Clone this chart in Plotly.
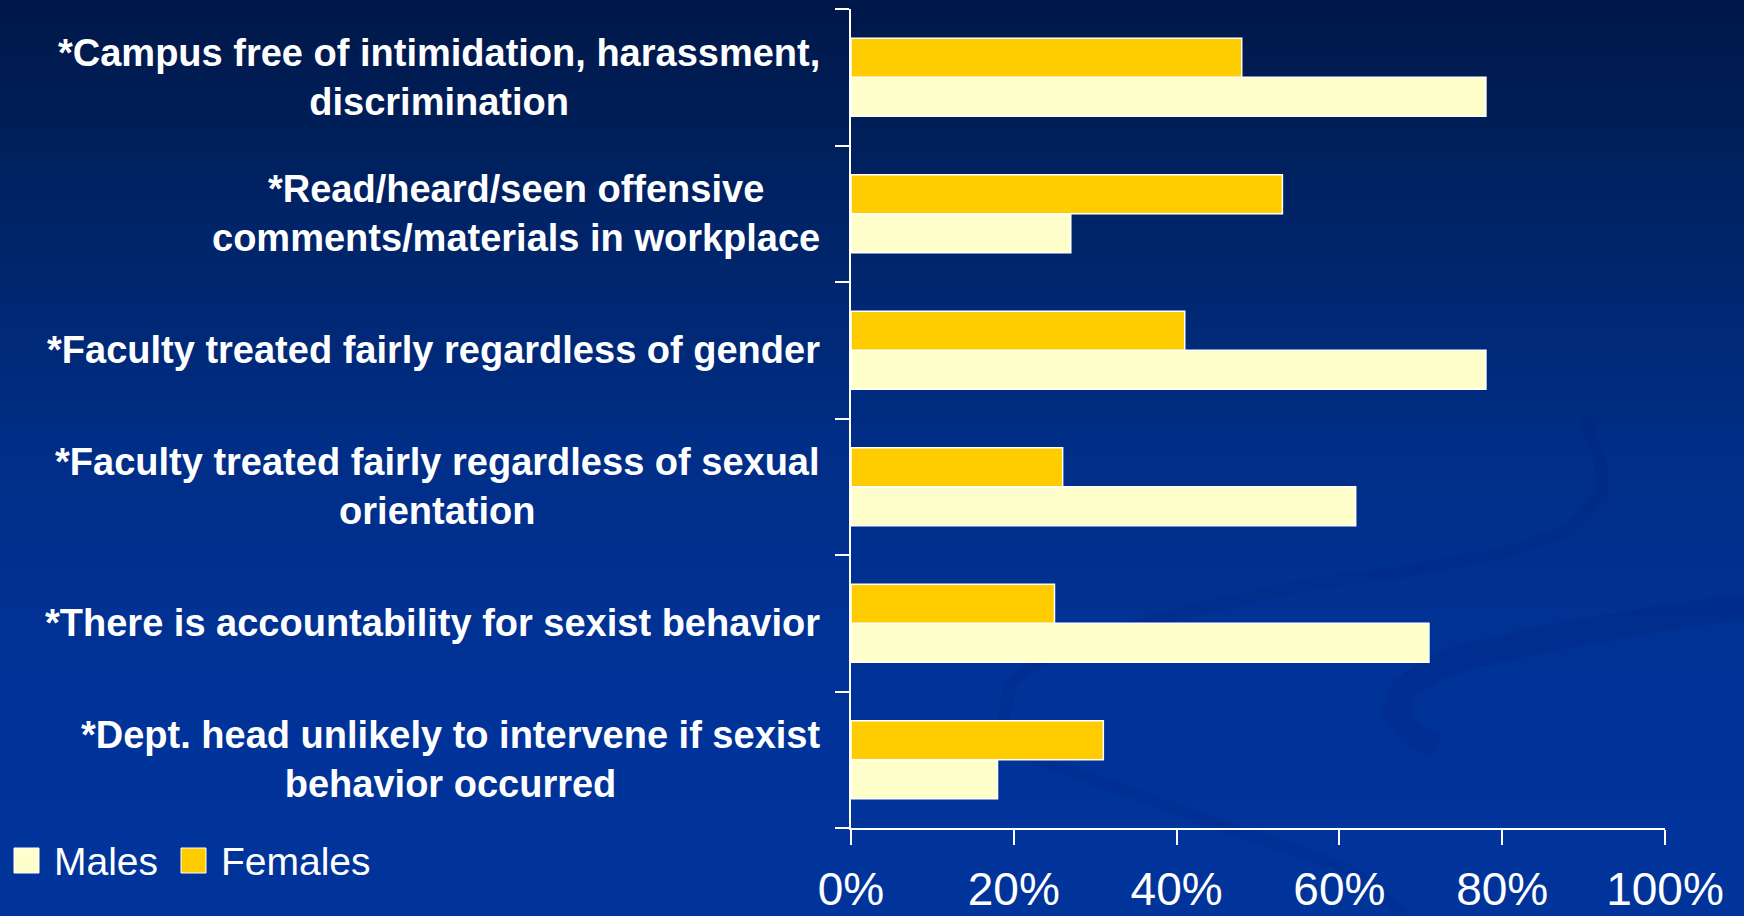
import plotly.graph_objects as go

# Survey items, top to bottom
categories = [
    "*Campus free of intimidation, harassment,<br>discrimination",
    "*Read/heard/seen offensive<br>comments/materials in workplace",
    "*Faculty treated fairly regardless of gender",
    "*Faculty treated fairly regardless of sexual<br>orientation",
    "*There is accountability for sexist behavior",
    "*Dept. head unlikely to intervene if sexist<br>behavior occurred",
]
males = [78, 27, 78, 62, 71, 18]
females = [48, 53, 41, 26, 25, 31]
x_ticks = [0, 20, 40, 60, 80, 100]
x_tick_labels = ["0%", "20%", "40%", "60%", "80%", "100%"]

MALE_COLOR = "#FFFFCC"
FEMALE_COLOR = "#FFCC00"
FONT = "Liberation Sans, Arial, sans-serif"

W, H = 1744, 916
L, R, T, B = 851, 79, 9, 88
PW, PH = W - L - R, H - T - B


def px_x(p):
    return (p - L) / PW


def px_y(p):
    return (H - B - p) / PH


# Category keys used on the axis (annotations carry the wrapped labels)
keys = [f"c{i}" for i in range(len(categories))]

fig = go.Figure()
fig.add_trace(go.Bar(
    name="Males", y=keys, x=males, orientation="h",
    marker=dict(color=MALE_COLOR, line=dict(color="white", width=1.5)),
    showlegend=False,
))
fig.add_trace(go.Bar(
    name="Females", y=keys, x=females, orientation="h",
    marker=dict(color=FEMALE_COLOR, line=dict(color="white", width=1.5)),
    showlegend=False,
))

shapes = []

# Vertical background gradient: dark navy at the top to royal blue below
stops = [(0.0, (0, 24, 72)), (0.25, (0, 36, 104)), (0.5, (0, 46, 136)),
         (0.75, (0, 51, 152)), (1.0, (0, 52, 155))]


def grad(t):
    for (t0, c0), (t1, c1) in zip(stops, stops[1:]):
        if t0 <= t <= t1:
            f = (t - t0) / (t1 - t0)
            return tuple(round(a + (b - a) * f) for a, b in zip(c0, c1))
    return stops[-1][1]


n = 92
for i in range(n):
    y0 = H * i / n
    y1 = H * (i + 1) / n + 1
    r, g, b = grad((i + 0.5) / n)
    shapes.append(dict(
        type="rect", xref="paper", yref="paper", layer="below",
        x0=px_x(0), x1=px_x(W), y0=px_y(y1), y1=px_y(y0),
        fillcolor=f"rgb({r},{g},{b})", line=dict(width=0),
    ))


def path_from(points):
    d = f"M {px_x(points[0][0])},{px_y(points[0][1])}"
    for (x, y) in points[1:]:
        d += f" L {px_x(x)},{px_y(y)}"
    return d


# Faint decorative ribbons in the lower right
swirl_1 = [(1583, 415), (1600, 460), (1603, 494), (1570, 530), (1507, 552),
           (1400, 572), (1304, 585), (1200, 608), (1102, 635), (1040, 660),
           (1011, 682), (1001, 729), (1020, 750), (1051, 765), (1130, 792),
           (1203, 819), (1290, 848), (1355, 873), (1406, 916)]
swirl_2 = [(1744, 606), (1650, 620), (1540, 640), (1470, 656), (1436, 668),
           (1405, 688), (1395, 711), (1410, 732), (1436, 747)]
shapes.append(dict(type="path", xref="paper", yref="paper", layer="below",
                   path=path_from(swirl_1),
                   line=dict(color="rgba(0,30,120,0.16)", width=12)))
shapes.append(dict(type="path", xref="paper", yref="paper", layer="below",
                   path=path_from(swirl_2),
                   line=dict(color="rgba(0,30,120,0.2)", width=26)))

# Legend swatches
legend_items = [("Males", MALE_COLOR, 14, 52), ("Females", FEMALE_COLOR, 181, 219)]
annotations = []
for name, color, sx, tx in legend_items:
    shapes.append(dict(
        type="rect", xref="paper", yref="paper", layer="above",
        x0=px_x(sx), x1=px_x(sx + 25), y0=px_y(873), y1=px_y(848),
        fillcolor=color, line=dict(color="white", width=1),
    ))
    annotations.append(dict(
        text=name, xref="paper", yref="paper", x=px_x(tx), y=px_y(861),
        xanchor="left", yanchor="middle", showarrow=False,
        font=dict(family=FONT, size=39, color="white"),
    ))

# Category labels, centred lines, right-aligned against the axis
for k, label in zip(keys, categories):
    annotations.append(dict(
        text=label, xref="paper", yref="y", x=0, y=k, xshift=-29,
        xanchor="right", yanchor="middle", align="center", showarrow=False,
        font=dict(family=FONT, size=38, color="white", weight="bold"),
    ))

fig.update_layout(
    width=W, height=H,
    margin=dict(l=L, r=R, t=T, b=B, pad=0, autoexpand=False),
    paper_bgcolor="#003399",
    plot_bgcolor="rgba(0,0,0,0)",
    barmode="group",
    bargap=0.43,
    bargroupgap=0,
    shapes=shapes,
    annotations=annotations,
    xaxis=dict(
        range=[0, 100], tickvals=x_ticks, ticktext=x_tick_labels,
        showgrid=False, zeroline=False, automargin=False,
        showline=True, linecolor="white", linewidth=2,
        ticks="outside", ticklen=15, tickwidth=2, tickcolor="white",
        ticklabelstandoff=5,
        tickfont=dict(family=FONT, size=46, color="white"),
        fixedrange=True,
    ),
    yaxis=dict(
        type="category", categoryorder="array", categoryarray=keys[::-1],
        range=[-0.5, len(keys) - 0.5], automargin=False,
        showticklabels=False, showgrid=False, zeroline=False,
        showline=True, linecolor="white", linewidth=2,
        ticks="outside", tickson="boundaries", ticklen=14, tickwidth=2,
        tickcolor="white", fixedrange=True,
    ),
)

fig.write_html("out.html", config={"displayModeBar": False})
